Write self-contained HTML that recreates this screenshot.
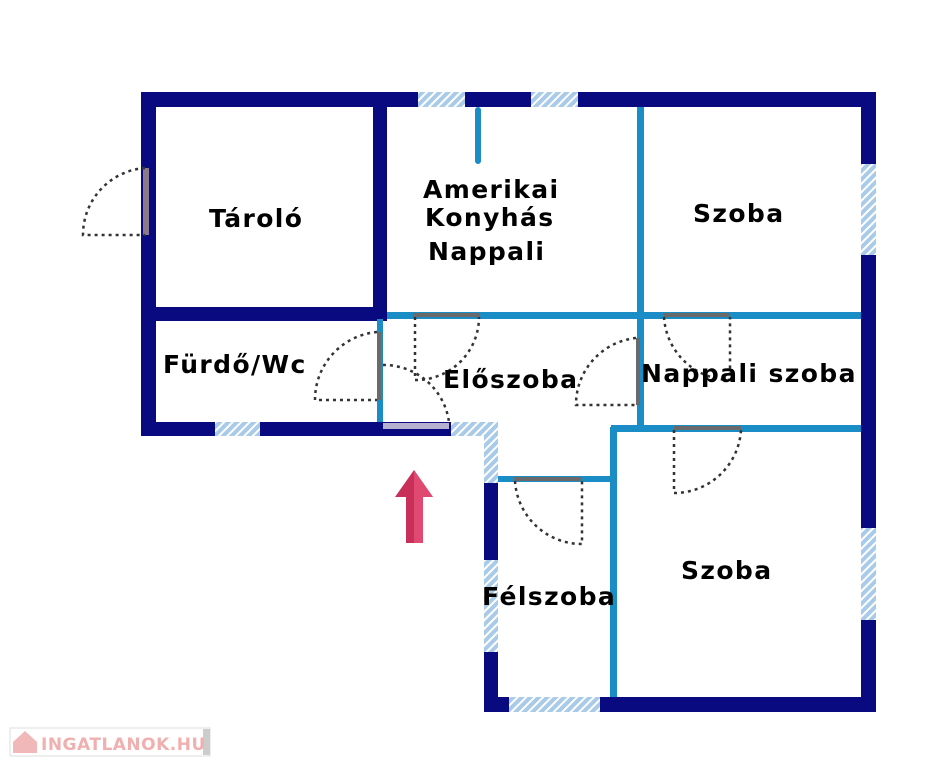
<!DOCTYPE html>
<html><head><meta charset="utf-8"><style>
body{margin:0;background:#fff;width:937px;height:768px;overflow:hidden}
text{font-family:"DejaVu Sans","Liberation Sans",sans-serif;font-weight:bold;fill:#000;font-size:25px;letter-spacing:1.4px}
</style></head><body>
<svg width="937" height="768" viewBox="0 0 937 768" xmlns="http://www.w3.org/2000/svg">
<defs>
<pattern id="h" width="6" height="6" patternUnits="userSpaceOnUse" patternTransform="rotate(45)">
<rect width="6" height="6" fill="#a9cbe8"/><rect width="2" height="6" fill="#fff"/>
</pattern>
</defs>
<g fill="#0a0a80">
<rect x="141" y="92" width="735" height="15" rx="4"/>
<rect x="141" y="92" width="15" height="344"/>
<rect x="861" y="92" width="15" height="620"/>
<rect x="141" y="422" width="310" height="14"/>
<rect x="484" y="422" width="14" height="290"/>
<rect x="484" y="697" width="392" height="15"/>
<rect x="373" y="92" width="14" height="229"/>
<rect x="141" y="307" width="246" height="14"/>
</g>
<g fill="#1a8cc6">
<rect x="387" y="312" width="474" height="7"/>
<rect x="637" y="107" width="7" height="320"/>
<rect x="377" y="319" width="6" height="103"/>
<rect x="611" y="425" width="250" height="7"/>
<rect x="610" y="427" width="7" height="270"/>
<rect x="498" y="476" width="114" height="6"/>
<rect x="475" y="107" width="6" height="57" rx="3"/>
</g>
<g fill="url(#h)">
<rect x="418" y="92" width="47" height="15"/>
<rect x="531" y="92" width="47" height="15"/>
<rect x="861" y="164" width="15" height="91"/>
<rect x="861" y="528" width="15" height="92"/>
<rect x="215" y="422" width="45" height="14"/>
<rect x="451" y="422" width="47" height="14"/>
<rect x="484" y="436" width="14" height="47"/>
<rect x="484" y="560" width="14" height="92"/>
<rect x="509" y="697" width="91" height="15"/>
</g>
<rect x="383" y="423" width="66" height="6" fill="#b8b0d0"/>
<rect x="143" y="168" width="6" height="67" fill="#8a7a8a"/>
<g fill="#6a6a6a">
<rect x="413" y="313" width="67" height="4"/>
<rect x="664" y="313" width="66" height="4"/>
<rect x="636" y="338" width="4" height="67"/>
<rect x="377" y="332" width="4" height="68"/>
<rect x="674" y="426" width="67" height="4"/>
<rect x="514" y="477" width="68" height="4"/>
</g>
<g fill="none" stroke="#333" stroke-width="2.5" stroke-dasharray="3,4">
<path d="M145 168 A67 67 0 0 0 83 235 L145 235"/>
<path d="M377 332 A68 68 0 0 0 315 400 L377 400"/>
<path d="M415 317 L415 380 A63 63 0 0 0 479 317"/>
<path d="M383 365 A66 66 0 0 1 449 422"/>
<path d="M636 338 A67 67 0 0 0 576 405 L636 405"/>
<path d="M664 317 A67 67 0 0 0 730 380 L730 317"/>
<path d="M674 430 L674 493 A67 67 0 0 0 741 430"/>
<path d="M515 481 A67 67 0 0 0 582 544 L582 481"/>
</g>
<polygon points="414,470 395,497 406,497 406,543 423,543 423,497 433,497" fill="#c8305a"/>
<polygon points="414,470 414,543 423,543 423,497 433,497" fill="#e04a72"/>
<text x="209" y="227">Tároló</text>
<text x="423" y="198">Amerikai</text>
<text x="425" y="226">Konyhás</text>
<text x="428" y="260">Nappali</text>
<text x="693" y="222">Szoba</text>
<text x="163" y="373">Fürdő/Wc</text>
<text x="443" y="388">Előszoba</text>
<text x="641" y="382">Nappali szoba</text>
<text x="681" y="579">Szoba</text>
<text x="482" y="605">Félszoba</text>
<rect x="10" y="728" width="200" height="28" fill="#fff" stroke="#ddd"/>
<rect x="203" y="729" width="7" height="26" fill="#ccc"/>
<path d="M13 742 L25 731 L37 742 L37 753 L13 753 Z" fill="#f0b8b8"/>
<text x="41" y="750" style="font-size:17px;letter-spacing:0.5px;fill:#f0b0b0">INGATLANOK.HU</text>
</svg>
</body></html>
